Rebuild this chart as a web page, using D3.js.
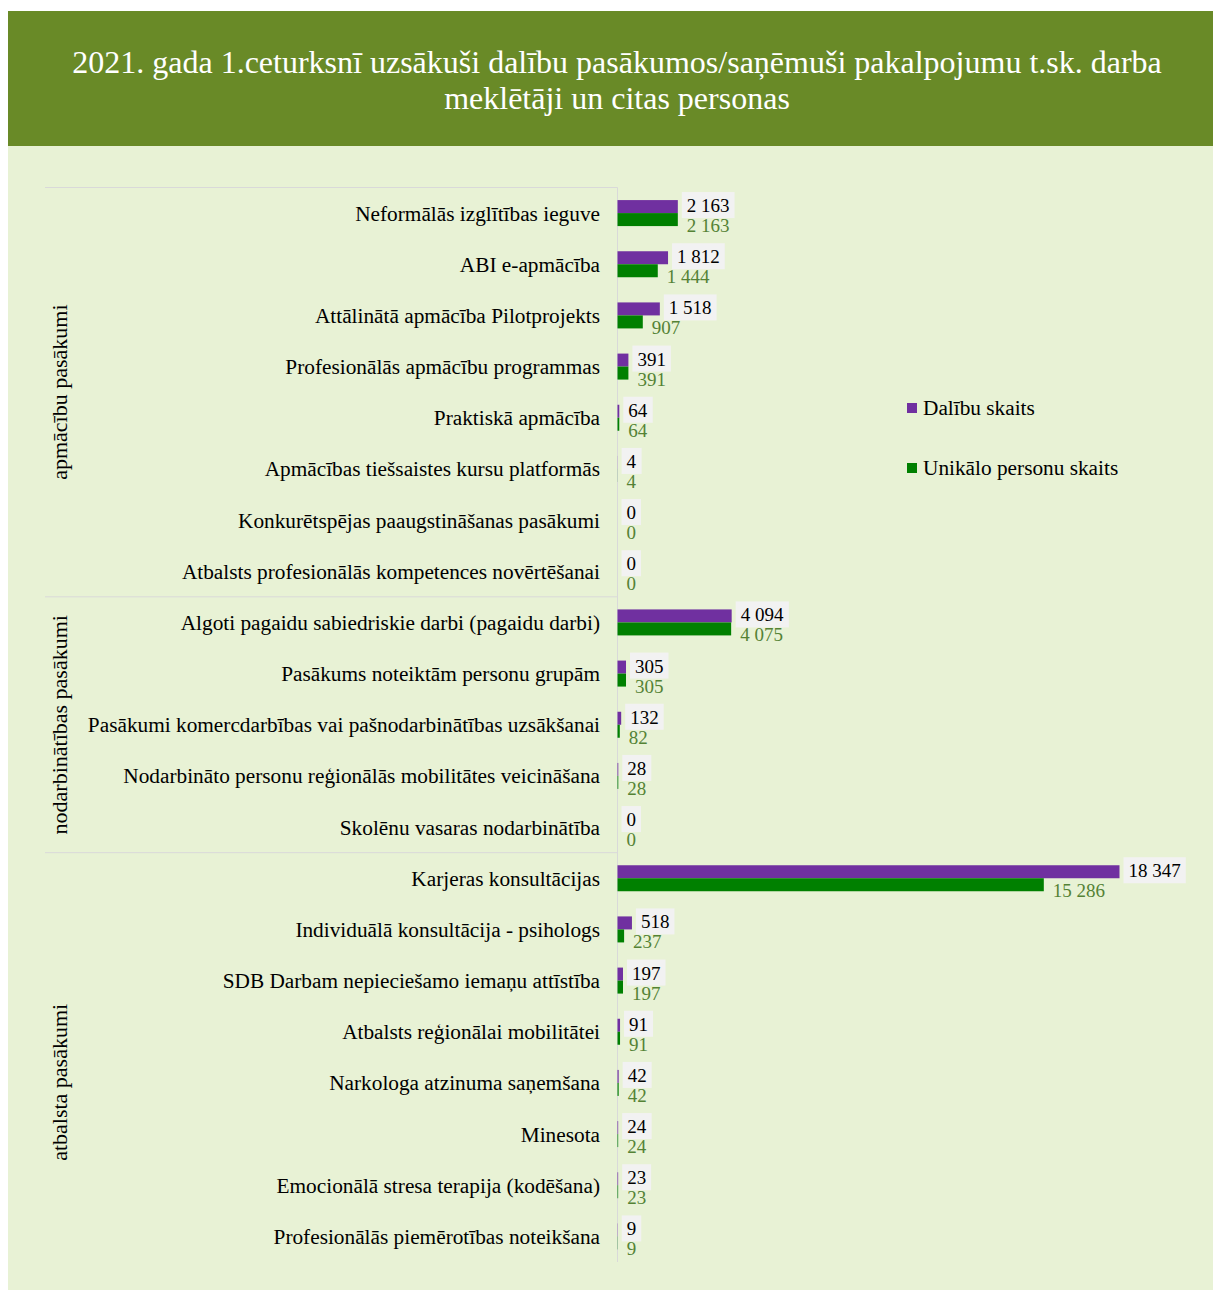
<!DOCTYPE html>
<html>
<head>
<meta charset="utf-8">
<script src="https://cdn.jsdelivr.net/npm/d3@7"></script>
<style>
  body { margin: 0; background: #fff; }
  text { font-family: "Liberation Serif", "Times New Roman", serif; }
</style>
</head>
<body>
<div id="chart"></div>
<script>
// chart data
var titleLines = ["2021. gada 1.ceturksnī uzsākuši dalību pasākumos/saņēmuši pakalpojumu t.sk. darba",
                  "meklētāji un citas personas"];
var seriesNames = ["Dalību skaits", "Unikālo personu skaits"];
var groups = ["apmācību pasākumi", "nodarbinātības pasākumi", "atbalsta pasākumi"];
var categories = [
    "Neformālās izglītības ieguve",
    "ABI e-apmācība",
    "Attālinātā apmācība Pilotprojekts",
    "Profesionālās apmācību programmas",
    "Praktiskā apmācība",
    "Apmācības tiešsaistes kursu platformās",
    "Konkurētspējas paaugstināšanas pasākumi",
    "Atbalsts profesionālās kompetences novērtēšanai",
    "Algoti pagaidu sabiedriskie darbi (pagaidu darbi)",
    "Pasākums noteiktām personu grupām",
    "Pasākumi komercdarbības vai pašnodarbinātības uzsākšanai",
    "Nodarbināto personu reģionālās mobilitātes veicināšana",
    "Skolēnu vasaras nodarbinātība",
    "Karjeras konsultācijas",
    "Individuālā konsultācija - psihologs",
    "SDB Darbam nepieciešamo iemaņu attīstība",
    "Atbalsts reģionālai mobilitātei",
    "Narkologa atzinuma saņemšana",
    "Minesota",
    "Emocionālā stresa terapija (kodēšana)",
    "Profesionālās piemērotības noteikšana"
];
var categoryGroup = [0, 0, 0, 0, 0, 0, 0, 0, 1, 1, 1, 1, 1, 2, 2, 2, 2, 2, 2, 2, 2];
var participations = [2163, 1812, 1518, 391, 64, 4, 0, 0, 4094, 305, 132, 28, 0, 18347, 518, 197, 91, 42, 24, 23, 9];
var uniquePersons = [2163, 1444, 907, 391, 64, 4, 0, 0, 4075, 305, 82, 28, 0, 15286, 237, 197, 91, 42, 24, 23, 9];
var axisMax = 18000;

var width = 1213, height = 1290;
var purple = "#7030a0", green = "#008000";

var fmt = d3.formatLocale({ decimal: ",", thousands: " ", grouping: [3], currency: ["", ""] }).format(",d");

var svg = d3.select("#chart")
    .append("svg")
    .attr("width", width)
    .attr("height", height);

// backgrounds
svg.append("rect")
    .attr("x", 8).attr("y", 146)
    .attr("width", width - 8).attr("height", height - 146)
    .attr("fill", "#e8f2d5");
svg.append("rect")
    .attr("x", 8).attr("y", 11)
    .attr("width", width - 8).attr("height", 135)
    .attr("fill", "#698a27");

// title
svg.selectAll(".title")
    .data(titleLines)
    .enter()
    .append("text")
    .attr("x", 617)
    .attr("y", function (d, i) { return 73 + i * 36; })
    .attr("text-anchor", "middle")
    .attr("font-size", "32px")
    .attr("fill", "#fff")
    .text(function (d) { return d; });

// scales
var x0 = 617.5;
var x = d3.scaleLinear().domain([0, axisMax]).range([x0, x0 + 502]).clamp(true);
var y = d3.scaleBand().domain(categories).range([187.5, 1262]);
var barH = 13;

var rows = categories.map(function (c, i) {
    return { name: c, group: categoryGroup[i], a: participations[i], b: uniquePersons[i] };
});

// group separators
var groupBounds = groups.map(function (g, gi) {
    var members = rows.filter(function (r) { return r.group == gi; });
    var top = y(members[0].name);
    var bottom = y(members[members.length - 1].name) + y.bandwidth();
    return { name: g, top: top, bottom: bottom };
});

svg.selectAll(".sep")
    .data(groupBounds)
    .enter()
    .append("line")
    .attr("x1", 45).attr("x2", x0)
    .attr("y1", function (d) { return d.top; })
    .attr("y2", function (d) { return d.top; })
    .attr("stroke", "#d9d9d9")
    .attr("stroke-width", 1);

svg.append("line")
    .attr("x1", x0).attr("x2", x0)
    .attr("y1", 187.5).attr("y2", 1262)
    .attr("stroke", "#d9d9d9")
    .attr("stroke-width", 1);

svg.selectAll(".grp")
    .data(groupBounds)
    .enter()
    .append("text")
    .attr("transform", function (d, i) {
        var cy = (d.top + d.bottom) / 2 + (i == 2 ? 25 : 0);
        return "translate(67," + cy + ") rotate(-90)";
    })
    .attr("text-anchor", "middle")
    .attr("font-size", "22px")
    .attr("fill", "#000")
    .text(function (d) { return d.name; });

// category labels
svg.selectAll(".cat")
    .data(rows)
    .enter()
    .append("text")
    .attr("x", 600)
    .attr("y", function (d) { return y(d.name) + y.bandwidth() / 2; })
    .attr("dy", "0.35em")
    .attr("text-anchor", "end")
    .attr("font-size", "21.3px")
    .attr("fill", "#000")
    .text(function (d) { return d.name; });

function mid(d) { return y(d.name) + y.bandwidth() / 2; }

// bars
svg.selectAll(".barA")
    .data(rows)
    .enter()
    .append("rect")
    .attr("x", x0)
    .attr("y", function (d) { return mid(d) - barH; })
    .attr("width", function (d) { return x(d.a) - x0; })
    .attr("height", barH)
    .attr("fill", purple);

svg.selectAll(".barB")
    .data(rows)
    .enter()
    .append("rect")
    .attr("x", x0)
    .attr("y", function (d) { return mid(d); })
    .attr("width", function (d) { return x(d.b) - x0; })
    .attr("height", barH)
    .attr("fill", green);

// value labels for first series (with light box)
var labA = svg.selectAll(".labA")
    .data(rows)
    .enter()
    .append("g")
    .attr("transform", function (d) { return "translate(" + (x(d.a) + 9) + "," + (mid(d) - 1) + ")"; });

labA.append("text")
    .attr("font-size", "19px")
    .attr("fill", "#000")
    .text(function (d) { return fmt(d.a); })
    .each(function () {
        var bb = this.getBBox();
        d3.select(this.parentNode).insert("rect", "text")
            .attr("x", bb.x - 5).attr("y", bb.y - 3)
            .attr("width", bb.width + 10).attr("height", bb.height + 5)
            .attr("fill", "#f2f2f2");
    });

// value labels for second series
svg.selectAll(".labB")
    .data(rows)
    .enter()
    .append("text")
    .attr("x", function (d) { return x(d.b) + 9; })
    .attr("y", function (d) { return mid(d) + 19; })
    .attr("font-size", "19px")
    .attr("fill", "#548235")
    .text(function (d) { return fmt(d.b); });

// legend
var legend = svg.selectAll(".leg")
    .data(seriesNames)
    .enter()
    .append("g")
    .attr("transform", function (d, i) { return "translate(907," + (403 + i * 60) + ")"; });

legend.append("rect")
    .attr("width", 10).attr("height", 10)
    .attr("fill", function (d, i) { return i == 0 ? purple : green; });

legend.append("text")
    .attr("x", 16).attr("y", 12)
    .attr("font-size", "21.3px")
    .attr("fill", "#000")
    .text(function (d) { return d; });
</script>
</body>
</html>
